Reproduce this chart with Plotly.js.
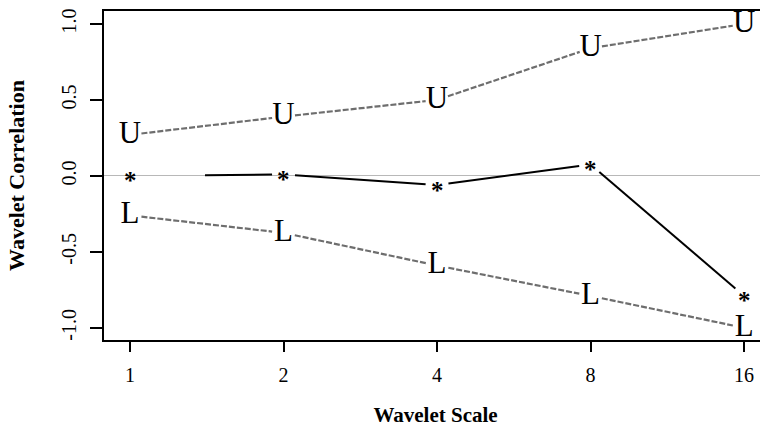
<!DOCTYPE html>
<html>
<head>
<meta charset="utf-8">
<script src="https://cdn.plot.ly/plotly-3.0.1.min.js"></script>
<style>
html,body{margin:0;padding:0;overflow:hidden;background:#fff;}
#chart{width:780px;height:427px;}
</style>
</head>
<body>
<div id="chart"></div>
<script>
// ---- data ----
const scales = [1, 2, 4, 8, 16];
const upper  = [0.27, 0.39, 0.50, 0.84, 1.00];
const est    = [0.00, 0.01, -0.06, 0.075, -0.79];
const lower  = [-0.26, -0.375, -0.59, -0.79, -1.00];
const tickLabels = ['1', '2', '4', '8', '16'];
const yTicks = [-1.0, -0.5, 0.0, 0.5, 1.0];
const yTickLabels = ['-1.0', '-0.5', '0.0', '0.5', '1.0'];

// ---- layout constants ----
const W = 780, H = 427;
const M = {l: 104, r: 13, t: 11, b: 87};
const xr = [-0.051, 1.249];     // log10 range
const yr = [-1.08, 1.085];
const pw = W - M.l - M.r, ph = H - M.t - M.b;
const FONT = '"Liberation Serif", "Times New Roman", serif';

const toPx = (x, y) => [(Math.log10(x) - xr[0]) / (xr[1] - xr[0]) * pw,
                        (yr[1] - y) / (yr[1] - yr[0]) * ph];
const fromPx = (px, py) => [Math.pow(10, xr[0] + px / pw * (xr[1] - xr[0])),
                            yr[1] - py / ph * (yr[1] - yr[0])];

// R type="b": segments between points with a gap around each point
function gapped(xs, ys, gap, firstStartGap) {
  const ox = [], oy = [];
  for (let i = 0; i < xs.length - 1; i++) {
    const a = toPx(xs[i], ys[i]), b = toPx(xs[i + 1], ys[i + 1]);
    const dx = b[0] - a[0], dy = b[1] - a[1];
    const len = Math.hypot(dx, dy);
    const g0 = (i === 0 && firstStartGap) ? firstStartGap : gap;
    const s = fromPx(a[0] + dx * g0 / len, a[1] + dy * g0 / len);
    const e = fromPx(b[0] - dx * gap / len, b[1] - dy * gap / len);
    ox.push(s[0], e[0], null); oy.push(s[1], e[1], null);
  }
  return {x: ox, y: oy};
}

const gU = gapped(scales, upper, 11.5);
const gL = gapped(scales, lower, 11.5);
const gE = gapped(scales, est, 11.5, 75);

const dashed = {color: '#6e6e6e', width: 2.2, dash: '6px,2px'};
const traces = [
  {x: gU.x, y: gU.y, mode: 'lines', line: dashed, connectgaps: false, hoverinfo: 'skip'},
  {x: gL.x, y: gL.y, mode: 'lines', line: dashed, connectgaps: false, hoverinfo: 'skip'},
  {x: gE.x, y: gE.y, mode: 'lines', line: {color: '#000000', width: 2}, connectgaps: false, hoverinfo: 'skip'},
  {x: scales, y: upper, mode: 'text', text: scales.map(() => 'U'), textposition: 'middle center',
   textfont: {family: FONT, size: 31, color: '#000'}, cliponaxis: false, hoverinfo: 'skip'},
  {x: scales, y: lower, mode: 'text', text: scales.map(() => 'L'), textposition: 'middle center',
   textfont: {family: FONT, size: 31, color: '#000'}, cliponaxis: false, hoverinfo: 'skip'}
];

const annotations = scales.map((s, i) => ({
  x: Math.log10(s), y: est[i], xref: 'x', yref: 'y', text: '<b>*</b>', showarrow: false,
  xanchor: 'center', yanchor: 'middle', yshift: -5,
  font: {family: FONT, size: 25, color: '#000'}
}));

const NB = '\u00A0';
const layout = {
  width: W, height: H,
  margin: M,
  paper_bgcolor: '#fff', plot_bgcolor: '#fff',
  showlegend: false,
  xaxis: {
    type: 'log', range: xr,
    tickmode: 'array', tickvals: scales, ticktext: tickLabels,
    ticks: 'outside', ticklen: 10, tickwidth: 2, tickcolor: '#000',
    showline: true, linewidth: 2, linecolor: '#000', mirror: true,
    showgrid: false, zeroline: false, ticklabelstandoff: 6,
    tickfont: {family: FONT, size: 20, color: '#000'},
    title: {text: '<b>Wavelet Scale</b>', font: {family: FONT, size: 21, color: '#000'}, standoff: 22}
  },
  yaxis: {
    range: yr,
    tickmode: 'array', tickvals: yTicks, ticktext: yTickLabels, tickangle: -90,
    ticks: 'outside', ticklen: 12, tickwidth: 2, tickcolor: '#000',
    showline: true, linewidth: 2, linecolor: '#000', mirror: true,
    showgrid: false, ticklabelstandoff: 6,
    zeroline: true, zerolinecolor: '#b8b8b8', zerolinewidth: 1,
    tickfont: {family: FONT, size: 20, color: '#000'},
    title: {text: '<b>Wavelet Correlation</b>' + NB.repeat(4), font: {family: FONT, size: 22, color: '#000'}, standoff: 27}
  },
  annotations: annotations
};

Plotly.newPlot('chart', traces, layout, {staticPlot: true, displayModeBar: false});
</script>
</body>
</html>
